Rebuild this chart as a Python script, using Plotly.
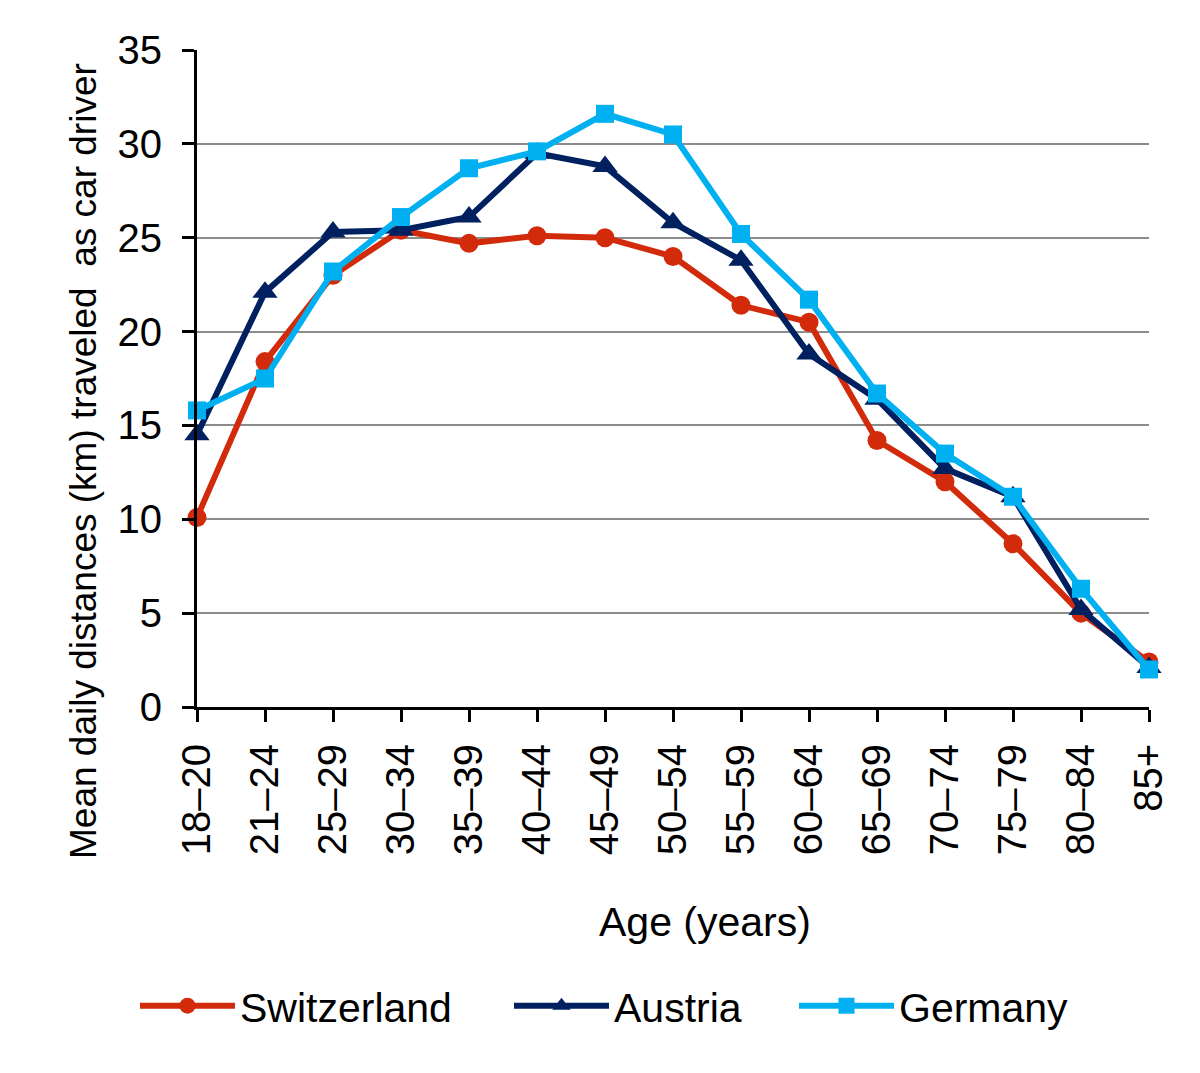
import plotly.graph_objects as go

ages = ["18–20", "21–24", "25–29", "30–34", "35–39", "40–44", "45–49", "50–54",
        "55–59", "60–64", "65–69", "70–74", "75–79", "80–84", "85+"]
switzerland = [10.1, 18.4, 23.0, 25.4, 24.7, 25.1, 25.0, 24.0, 21.4, 20.5, 14.2, 12.0, 8.7, 5.0, 2.4]
austria = [14.5, 22.1, 25.3, 25.4, 26.1, 29.5, 28.8, 25.8, 23.8, 18.8, 16.4, 12.7, 11.2, 5.2, 2.1]
germany = [15.8, 17.5, 23.2, 26.1, 28.7, 29.6, 31.6, 30.5, 25.2, 21.7, 16.7, 13.5, 11.2, 6.3, 2.0]

FONT = "Liberation Sans, Arial, sans-serif"

fig = go.Figure()
fig.add_trace(go.Scatter(x=ages, y=switzerland, name="Switzerland", mode="lines+markers",
                         line=dict(color="#D22B0C", width=6),
                         marker=dict(symbol="circle", size=19, color="#D22B0C"),
                         cliponaxis=False, legend="legend"))
fig.add_trace(go.Scatter(x=ages, y=austria, name="Austria", mode="lines+markers",
                         line=dict(color="#002060", width=6),
                         marker=dict(symbol="triangle-up", size=22, color="#002060"),
                         cliponaxis=False, legend="legend2"))
fig.add_trace(go.Scatter(x=ages, y=germany, name="Germany", mode="lines+markers",
                         line=dict(color="#00B0F0", width=6),
                         marker=dict(symbol="square", size=18, color="#00B0F0"),
                         cliponaxis=False, legend="legend3"))

LY = (699 - 998) / 657


def leg(x):
    return dict(orientation="h", x=x, xanchor="left", y=LY, yanchor="middle",
                font=dict(size=41, family=FONT, color="black"), itemwidth=95,
                bgcolor="rgba(0,0,0,0)")


fig.update_layout(
    width=1200, height=1073,
    margin=dict(l=189, r=59, t=42, b=374),
    paper_bgcolor="white", plot_bgcolor="white",
    font=dict(family=FONT, size=38, color="black"),
    showlegend=True,
    legend=leg((127 - 189) / 952),
    legend2=leg((501 - 189) / 952),
    legend3=leg((786 - 189) / 952),
    annotations=[
        dict(text="Age (years)", xref="paper", yref="paper", x=(697 - 189) / 952,
             y=(699 - 914) / 657, xanchor="center", yanchor="middle", showarrow=False,
             font=dict(size=41)),
        dict(text="Mean daily distances (km) traveled  as car driver", xref="paper", yref="paper",
             x=(75 - 189) / 952, y=(699 - 453) / 657, xanchor="center", yanchor="middle",
             textangle=-90, showarrow=False, font=dict(size=37)),
    ],
)
fig.update_xaxes(type="category", range=[0, 14], showline=True, linecolor="black", linewidth=3,
                 ticks="outside", ticklen=12, tickwidth=3, tickcolor="black", tickangle=-90,
                 showgrid=False, zeroline=False, tickfont=dict(size=40), ticklabelstandoff=6)
fig.update_yaxes(range=[0, 35], dtick=5, showline=True, linecolor="black", linewidth=3,
                 ticks="outside", ticklen=12, tickwidth=3, tickcolor="black",
                 showgrid=True, gridcolor="#8c8c8c", gridwidth=2, zeroline=False,
                 tickfont=dict(size=40), ticklabelstandoff=12)

fig.write_html("out.html")
